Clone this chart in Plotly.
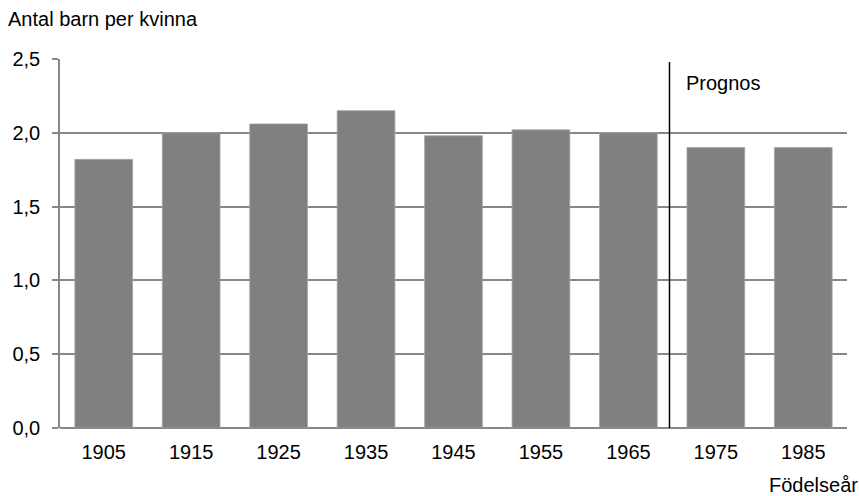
import plotly.graph_objects as go

# birth cohorts and children per woman (last two are forecasts)
cohorts = ['1905', '1915', '1925', '1935', '1945', '1955', '1965', '1975', '1985']
children = [1.82, 2.00, 2.06, 2.15, 1.98, 2.02, 2.00, 1.90, 1.90]

FONT = 'Liberation Sans, Arial, sans-serif'
GRID = '#878787'
FS = 20

fig = go.Figure()
fig.add_trace(go.Bar(
    x=cohorts,
    y=children,
    marker=dict(color='#808080', line=dict(color='#a3a3a3', width=0.8)),
    hoverinfo='x+y',
))

# forecast divider
fig.add_shape(
    type='line', xref='x', yref='y',
    x0=6.47, x1=6.47, y0=0, y1=2.48,
    line=dict(color='black', width=1.5),
)

fig.add_annotation(
    text='Prognos', xref='x', yref='y', x=6.47, y=2.34,
    xanchor='left', yanchor='middle', xshift=15, showarrow=False,
    font=dict(size=FS, color='black', family=FONT),
)
fig.add_annotation(
    text='Antal barn per kvinna', xref='paper', yref='paper',
    x=-0.068, y=1.0, yshift=40, xanchor='left', yanchor='middle',
    showarrow=False, font=dict(size=FS, color='black', family=FONT),
)
fig.add_annotation(
    text='Födelseår', xref='paper', yref='paper',
    x=1.016, y=0, yshift=-57, xanchor='right', yanchor='middle',
    showarrow=False, font=dict(size=FS, color='black', family=FONT),
)

fig.update_layout(
    width=859, height=496,
    margin=dict(l=58, r=12, t=59, b=68),
    paper_bgcolor='white', plot_bgcolor='white',
    separators=', ',
    bargap=0.34,
    showlegend=False,
    font=dict(family=FONT, size=FS, color='black'),
    xaxis=dict(
        type='category', showgrid=False, zeroline=False,
        showline=False, ticks='', ticklabelstandoff=10,
        tickfont=dict(size=FS),
    ),
    yaxis=dict(
        range=[0, 2.5], dtick=0.5, tickformat='.1f',
        showgrid=True, gridcolor=GRID, gridwidth=1.5,
        zeroline=True, zerolinecolor=GRID, zerolinewidth=1.5,
        showline=True, linecolor=GRID, linewidth=1.5,
        ticks='outside', ticklen=6, tickcolor=GRID, tickwidth=1.5,
        ticklabelstandoff=8, tickfont=dict(size=FS),
    ),
)

# drop the default page margin so the figure sits at the window's corner
fig.write_html(
    'out.html',
    config={'displayModeBar': False},
    post_script="document.body.style.margin='0';",
)
